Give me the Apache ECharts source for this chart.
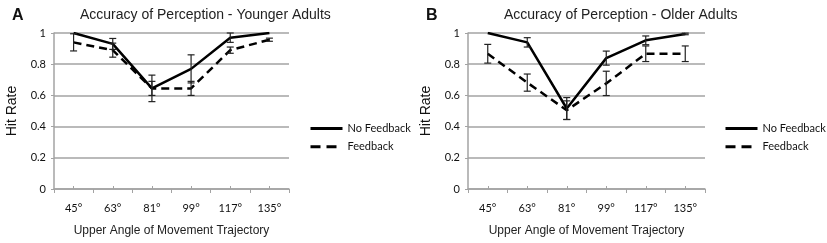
<!DOCTYPE html>
<html>
<head>
<meta charset="utf-8">
<script src="https://cdn.jsdelivr.net/npm/echarts@6/dist/echarts.min.js"></script>
<style>
  html, body { margin: 0; padding: 0; background: #fff; }
  #chart { width: 827px; height: 243px; }
</style>
</head>
<body>
<div id="chart"></div>
<script>
// categories
const angles = ["45°", "63°", "81°", "99°", "117°", "135°"];
const yTicks = [0, 0.2, 0.4, 0.6, 0.8, 1];

// panel A - younger adults
const youngNoFb = [1.0, 0.93, 0.645, 0.77, 0.97, 1.0];
const youngNoFbErr = [0, 0.035, 0.085, 0.09, 0.03, 0];
const youngFb = [0.94, 0.89, 0.645, 0.645, 0.89, 0.957];
const youngFbErr = [0.055, 0.045, 0.045, 0.045, 0.02, 0.01];

// panel B - older adults
const oldNoFb = [1.0, 0.94, 0.516, 0.839, 0.953, 0.994];
const oldNoFbErr = [0, 0.03, 0.07, 0.045, 0.028, 0.005];
const oldFb = [0.867, 0.682, 0.505, 0.677, 0.867, 0.867];
const oldFbErr = [0.06, 0.055, 0.06, 0.078, 0.05, 0.05];

const panels = [
  { letter: "A", title: "Accuracy of Perception - Younger Adults", left: 54, width: 235,
    letterLeft: 7, titleLeft: 75, legendLeft: 304,
    noFb: youngNoFb, noFbErr: youngNoFbErr, fb: youngFb, fbErr: youngFbErr },
  { letter: "B", title: "Accuracy of Perception - Older Adults", left: 468, width: 237,
    letterLeft: 421, titleLeft: 499, legendLeft: 719,
    noFb: oldNoFb, noFbErr: oldNoFbErr, fb: oldFb, fbErr: oldFbErr },
];

const gray = "#a3a3a3";
const tickFont = "Lato";
const titleFont = "Liberation Sans";

function errorData(values, errs) {
  return values.map((v, i) => [i, v - errs[i], v + errs[i]]);
}

function renderError(params, api) {
  const x = api.value(0);
  const lo = api.coord([x, api.value(1)]);
  const hi = api.coord([x, api.value(2)]);
  if (Math.abs(lo[1] - hi[1]) < 0.5) return null;
  const cap = 3.5;
  const style = { stroke: "#222", lineWidth: 1.2 };
  return {
    type: "group",
    children: [
      { type: "line", shape: { x1: lo[0], y1: lo[1], x2: hi[0], y2: hi[1] }, style },
      { type: "line", shape: { x1: lo[0] - cap, y1: lo[1], x2: lo[0] + cap, y2: lo[1] }, style },
      { type: "line", shape: { x1: hi[0] - cap, y1: hi[1], x2: hi[0] + cap, y2: hi[1] }, style },
    ],
  };
}

const option = {
  animation: false,
  title: [],
  legend: [],
  grid: [],
  xAxis: [],
  yAxis: [],
  series: [],
};

panels.forEach((p, k) => {
  option.title.push({
    text: p.letter, left: p.letterLeft, top: 3,
    textStyle: { fontFamily: titleFont, fontSize: 16, fontWeight: "bold", color: "#111" },
  });
  option.title.push({
    text: p.title, left: p.titleLeft, top: 3,
    textStyle: { fontFamily: titleFont, fontSize: 14, fontWeight: "normal", color: "#222" },
  });
  option.legend.push({
    left: p.legendLeft, top: 118, orient: "vertical",
    itemWidth: 32, itemHeight: 14, itemGap: 7,
    itemStyle: { opacity: 0 },
    data: [
      { name: "No Feedback", lineStyle: { width: 3 } },
      { name: "Feedback", lineStyle: { width: 3, type: [10, 6] } },
    ],
    textStyle: { fontFamily: tickFont, fontSize: 11, color: "#111" },
  });
  option.grid.push({ left: p.left, width: p.width, top: 33, height: 156 });

  // boundary ticks + axis title
  option.xAxis.push({
    type: "category", gridIndex: k, data: angles,
    name: "Upper Angle of Movement Trajectory", nameLocation: "middle", nameGap: 36,
    nameTextStyle: { fontFamily: titleFont, fontSize: 12, color: "#222" },
    axisLine: { lineStyle: { color: gray, width: 1.5 } },
    axisTick: { show: true, length: 4, alignWithLabel: false, lineStyle: { color: gray } },
    axisLabel: { fontFamily: tickFont, fontSize: 11, color: "#111", margin: 14 },
  });
  // center ticks
  option.xAxis.push({
    type: "category", gridIndex: k, data: angles, position: "bottom",
    axisLine: { show: false },
    axisTick: { show: true, inside: true, length: 3, alignWithLabel: true, lineStyle: { color: gray } },
    axisLabel: { show: false },
  });
  option.yAxis.push({
    type: "value", gridIndex: k, min: 0, max: 1, interval: 0.2,
    name: "Hit Rate", nameLocation: "middle", nameRotate: 90, nameGap: 35,
    nameTextStyle: { fontFamily: titleFont, fontSize: 14, color: "#111" },
    axisLine: { show: true, lineStyle: { color: gray, width: 1.5 } },
    axisTick: { show: true, length: 3, lineStyle: { color: gray } },
    splitLine: { lineStyle: { color: gray, width: 1.5 } },
    axisLabel: { fontFamily: tickFont, fontSize: 11, color: "#111", margin: 8,
      formatter: (v) => (yTicks.includes(Math.round(v * 10) / 10) ? String(Math.round(v * 10) / 10) : "") },
  });

  const xi = k * 2;
  option.series.push({
    name: "No Feedback", type: "line", xAxisIndex: xi, yAxisIndex: k, data: p.noFb,
    symbol: "none", lineStyle: { color: "#000", width: 2.5 }, itemStyle: { color: "#000" }, z: 3,
  });
  option.series.push({
    name: "Feedback", type: "line", xAxisIndex: xi, yAxisIndex: k, data: p.fb,
    symbol: "none", lineStyle: { color: "#000", width: 2.5, type: [8, 5] }, itemStyle: { color: "#000" }, z: 3,
  });
  option.series.push({
    type: "custom", xAxisIndex: xi, yAxisIndex: k, renderItem: renderError,
    data: errorData(p.noFb, p.noFbErr), z: 4,
  });
  option.series.push({
    type: "custom", xAxisIndex: xi, yAxisIndex: k, renderItem: renderError,
    data: errorData(p.fb, p.fbErr), z: 4,
  });
});

echarts.init(document.getElementById("chart"), null, { renderer: "canvas" }).setOption(option);
</script>
</body>
</html>
